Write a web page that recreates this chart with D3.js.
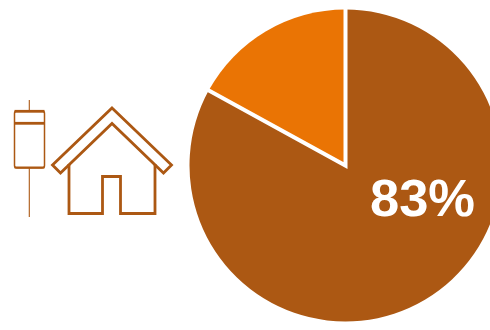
<!DOCTYPE html>
<html>
<head>
<meta charset="utf-8">
<script src="https://cdn.jsdelivr.net/npm/d3@7"></script>
<style>html,body{margin:0;padding:0;background:#fff}svg{display:block}</style>
</head>
<body>
<script>
const categories = ["Share", "Remainder"];
const shareValues = [83, 17];
const sliceColours = ["#ac5813", "#ea7404"];
const valueLabel = "83%";

const svg = d3.select("body").append("svg").attr("width", 490).attr("height", 330);
const brown = sliceColours[0];

// Pie, starting at twelve o'clock and running clockwise
const cx = 345.5, cy = 165.5, radius = 156;
const pie = d3.pie().sort(null).value(d => d.value);
const arc = d3.arc().innerRadius(0).outerRadius(radius);
const slices = pie(categories.map((name, i) => ({name, value: shareValues[i]})));

const pieGroup = svg.append("g").attr("transform", `translate(${cx},${cy})`);
pieGroup.selectAll("path").data(slices).join("path")
  .attr("d", arc)
  .attr("fill", (d, i) => sliceColours[i]);

// White separator along the slice boundaries, leaving the outer rim unstroked
const seam = d3.path();
const [bx, by] = d3.pointRadial(slices[0].endAngle, radius + 2);
const [tx, ty] = d3.pointRadial(slices[1].endAngle, radius + 2);
seam.moveTo(bx, by);
seam.lineTo(0, 0);
seam.lineTo(tx, ty);
pieGroup.append("path").attr("d", seam.toString())
  .attr("fill", "none").attr("stroke", "#fff")
  .attr("stroke-width", 4).attr("stroke-linejoin", "miter");

svg.append("text").attr("x", 422.5).attr("y", 216)
  .attr("text-anchor", "middle")
  .attr("font-family", "Liberation Sans, Arial, sans-serif")
  .attr("font-weight", "700").attr("font-size", 52.5)
  .attr("fill", "#fff").text(valueLabel);

// Fuse icon
const fuse = svg.append("g").attr("fill", "none").attr("stroke", brown);
fuse.append("line").attr("x1", 29.3).attr("x2", 29.3).attr("y1", 100).attr("y2", 111).attr("stroke-width", 1.1);
fuse.append("line").attr("x1", 29.3).attr("x2", 29.3).attr("y1", 168).attr("y2", 217).attr("stroke-width", 1.1);
fuse.append("rect").attr("x", 14.5).attr("y", 111).attr("width", 30).attr("height", 57).attr("rx", 2.5).attr("stroke-width", 1.5);
fuse.append("line").attr("x1", 14.5).attr("x2", 44.5).attr("y1", 111.3).attr("y2", 111.3).attr("stroke-width", 2.8);
fuse.append("line").attr("x1", 14.5).attr("x2", 44.5).attr("y1", 123.3).attr("y2", 123.3).attr("stroke-width", 2.8);
fuse.append("line").attr("x1", 14.5).attr("x2", 44.5).attr("y1", 167.5).attr("y2", 167.5).attr("stroke-width", 2);

// House icon: roof band, then walls with a door
const house = svg.append("g").attr("fill", "none").attr("stroke", brown).attr("stroke-width", 2.8).attr("stroke-linejoin", "miter");
house.append("path").attr("d", "M112,108 L171.5,165 L163.5,173 L112,123.5 L60.5,173 L52.5,165 Z");
house.append("path").attr("d", "M69,164 V213.5 H102.5 V176.5 H120.5 V213.5 H155 V164");
</script>
</body>
</html>
